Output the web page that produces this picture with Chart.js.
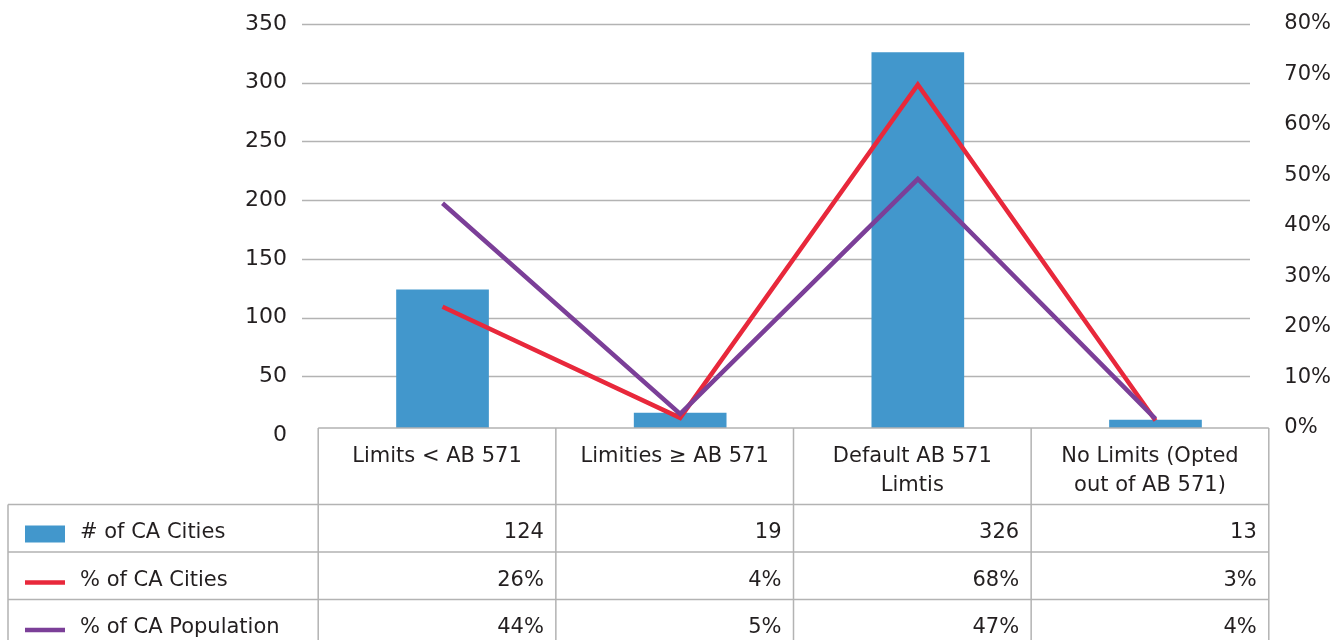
<!DOCTYPE html>
<html>
<head>
<meta charset="utf-8">
<script src="https://cdn.jsdelivr.net/npm/chart.js@4"></script>
<style>
  html, body { margin: 0; padding: 0; background: #fff; }
  #wrap { width: 1338px; height: 640px; }
</style>
</head>
<body>
<div id="wrap"><canvas id="myChart" width="1338" height="640"></canvas></div>
<script>
const categories = ["Limits < AB 571", "Limities \u2265 AB 571", ["Default AB 571", "Limtis"], ["No Limits (Opted", "out of AB 571)"]];
const cityCounts = [124, 19, 326, 13];
// plotted % points
const cityPct = [24, 2, 68, 1.5];
const popPct = [44.5, 2.8, 49.3, 1.8];
// values printed in the data table
const cityPctLabels = ["26%", "4%", "68%", "3%"];
const popPctLabels = ["44%", "5%", "47%", "4%"];
const countTicks = [0, 50, 100, 150, 200, 250, 300, 350];
const pctTicks = [0, 10, 20, 30, 40, 50, 60, 70, 80];

const seriesNames = ["# of CA Cities", "% of CA Cities", "% of CA Population"];
const barColor = "#4297CC";
const redColor = "#E8283B";
const purpleColor = "#7B3F98";
const textColor = "#231F20";
const lineGray = "#B3B3B3";
const font = "21px 'DejaVu Sans'";

// horizontal gridlines (sit a bit left of the category area, like the original)
const gridPlugin = {
  id: "grid",
  beforeDatasetsDraw(chart) {
    const ctx = chart.ctx;
    const y = chart.scales.y;
    ctx.save();
    ctx.strokeStyle = lineGray;
    ctx.lineWidth = 1.3;
    countTicks.forEach(function (v) {
      if (v === 0) return;
      const py = Math.round(y.getPixelForValue(v)) + 0.5;
      ctx.beginPath();
      ctx.moveTo(302, py);
      ctx.lineTo(1250, py);
      ctx.stroke();
    });
    ctx.restore();
  }
};

// data table under the chart
const tablePlugin = {
  id: "dataTable",
  afterDraw(chart) {
    const ctx = chart.ctx;
    const x = chart.scales.x;
    const step = x.getPixelForValue(1) - x.getPixelForValue(0);
    const edges = [];
    for (let i = 0; i <= categories.length; i++) {
      edges.push(x.getPixelForValue(0) - step / 2 - 5.5 + i * step);
    }
    const tableTop = 428;
    const rowTops = [504.5, 552, 599.5, 647];
    const left = 8;
    const right = edges[edges.length - 1];

    ctx.save();
    ctx.fillStyle = "#fff";
    ctx.fillRect(edges[0], tableTop, right - edges[0], 640 - tableTop);
    ctx.fillRect(left, rowTops[0], edges[0] - left, 640 - rowTops[0]);

    ctx.strokeStyle = lineGray;
    ctx.lineWidth = 1.5;
    ctx.beginPath();
    ctx.moveTo(edges[0], tableTop); ctx.lineTo(right, tableTop);
    edges.forEach(function (ex) { ctx.moveTo(ex, tableTop); ctx.lineTo(ex, 640); });
    ctx.moveTo(left, rowTops[0]); ctx.lineTo(left, 640);
    for (let r = 0; r < 3; r++) { ctx.moveTo(left, rowTops[r]); ctx.lineTo(right, rowTops[r]); }
    ctx.stroke();

    ctx.font = font;
    ctx.fillStyle = textColor;
    ctx.textBaseline = "middle";
    ctx.textAlign = "center";
    categories.forEach(function (c, i) {
      const lines = Array.isArray(c) ? c : [c];
      const cx = (edges[i] + edges[i + 1]) / 2;
      lines.forEach(function (t, k) { ctx.fillText(t, cx, tableTop + 29 + k * 29); });
    });

    const rows = [cityCounts.map(String), cityPctLabels, popPctLabels];
    ctx.textAlign = "right";
    rows.forEach(function (vals, r) {
      vals.forEach(function (v, i) { ctx.fillText(v, edges[i + 1] - 12, rowTops[r] + 28.5); });
    });

    ctx.textAlign = "left";
    seriesNames.forEach(function (n, r) {
      const cy = rowTops[r] + 29.5;
      if (r === 0) {
        ctx.fillStyle = barColor;
        ctx.fillRect(25, cy - 8.5, 40, 17);
      } else {
        ctx.strokeStyle = r === 1 ? redColor : purpleColor;
        ctx.lineWidth = 4.5;
        ctx.beginPath(); ctx.moveTo(25, cy + 1); ctx.lineTo(65, cy + 1); ctx.stroke();
      }
      ctx.fillStyle = textColor;
      ctx.fillText(n, 80, rowTops[r] + 28.5);
    });
    ctx.restore();
  }
};

new Chart("myChart", {
  type: "bar",
  data: {
    labels: categories,
    datasets: [{
      type: "line",
      label: seriesNames[2],
      data: popPct,
      yAxisID: "y1",
      borderColor: purpleColor,
      borderWidth: 4.5,
      pointRadius: 0,
      tension: 0,
      fill: false,
      order: 1
    }, {
      type: "line",
      label: seriesNames[1],
      data: cityPct,
      yAxisID: "y1",
      borderColor: redColor,
      borderWidth: 4.5,
      pointRadius: 0,
      tension: 0,
      fill: false,
      order: 2
    }, {
      type: "bar",
      label: seriesNames[0],
      data: cityCounts,
      yAxisID: "y",
      backgroundColor: barColor,
      barPercentage: 0.39,
      categoryPercentage: 1,
      order: 3
    }]
  },
  options: {
    responsive: false,
    animation: false,
    layout: { padding: { top: 24, bottom: 205, left: 0, right: 0 } },
    plugins: { legend: { display: false }, tooltip: { enabled: false } },
    scales: {
      x: { display: false },
      y: {
        position: "left",
        min: 0,
        max: 350,
        afterBuildTicks: function (axis) { axis.ticks = countTicks.map(function (v) { return { value: v }; }); },
        afterFit: function (axis) { axis.width = 323.7; },
        // invisible tick marks keep the labels away from the plot without adding vertical padding
        grid: { display: true, drawOnChartArea: false, drawTicks: true, tickLength: 34.7, tickColor: "rgba(0,0,0,0)" },
        border: { display: false },
        ticks: { padding: 2, color: textColor, font: { family: "DejaVu Sans", size: 22 } }
      },
      y1: {
        position: "right",
        min: -1.386,
        max: 80,
        afterBuildTicks: function (axis) { axis.ticks = pctTicks.map(function (v) { return { value: v }; }); },
        afterFit: function (axis) { axis.width = 63.7; },
        grid: { display: false },
        border: { display: false },
        ticks: {
          padding: 2,
          color: textColor,
          font: { family: "DejaVu Sans", size: 21 },
          callback: function (v) { return v + "%"; }
        }
      }
    }
  },
  plugins: [gridPlugin, tablePlugin]
});
</script>
</body>
</html>
